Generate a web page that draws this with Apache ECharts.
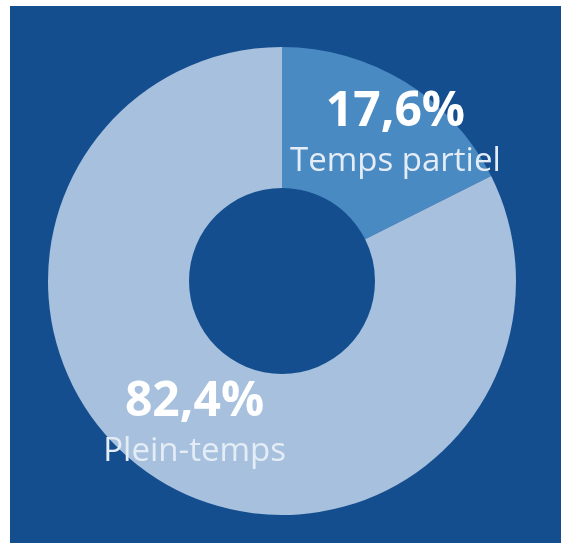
<!DOCTYPE html>
<html>
<head>
<meta charset="utf-8">
<script src="https://cdn.jsdelivr.net/npm/echarts@6/dist/echarts.min.js"></script>
<style>
html,body{margin:0;padding:0;background:#fff;}
#c{width:561px;height:543px;}
</style>
</head>
<body>
<div id="c"></div>
<script>
const categories = ['Temps partiel', 'Plein-temps'];
const values = [17.6, 82.4];
const valueLabels = ['17,6%', '82,4%'];
const sliceColors = ['#4a8ac2', '#a6c0de'];

const chart = echarts.init(document.getElementById('c'), null, {renderer: 'canvas'});
const data = categories.map((c, i) => ({
  name: c,
  value: values[i],
  itemStyle: {color: sliceColors[i]}
}));
chart.setOption({
  backgroundColor: '#ffffff',
  animation: false,
  graphic: [{
    type: 'rect', left: 10, top: 6, z: -10,
    shape: {width: 551, height: 537},
    style: {fill: '#154e8f'}
  }],
  series: [{
    type: 'pie',
    center: [282, 281],
    radius: [93, 234],
    startAngle: 90,
    clockwise: true,
    silent: true,
    data: data,
    label: {
      show: true,
      position: 'inside',
      formatter: p => '{v|' + valueLabels[p.dataIndex] + '}\n{n|' + p.name + '}',
      rich: {
        v: {fontFamily: 'Open Sans', fontWeight: 'bold', fontSize: 48, color: '#ffffff', lineHeight: 52, align: 'center'},
        n: {fontFamily: 'Open Sans', fontSize: 33, color: '#e4ecf6', lineHeight: 46, align: 'center'}
      }
    },
    labelLayout: function (p) {
      if (p.dataIndex === 0) return {dx: 26, dy: -4};
      return {dx: 0, dy: 3};
    },
    labelLine: {show: false}
  }]
});
</script>
</body>
</html>
